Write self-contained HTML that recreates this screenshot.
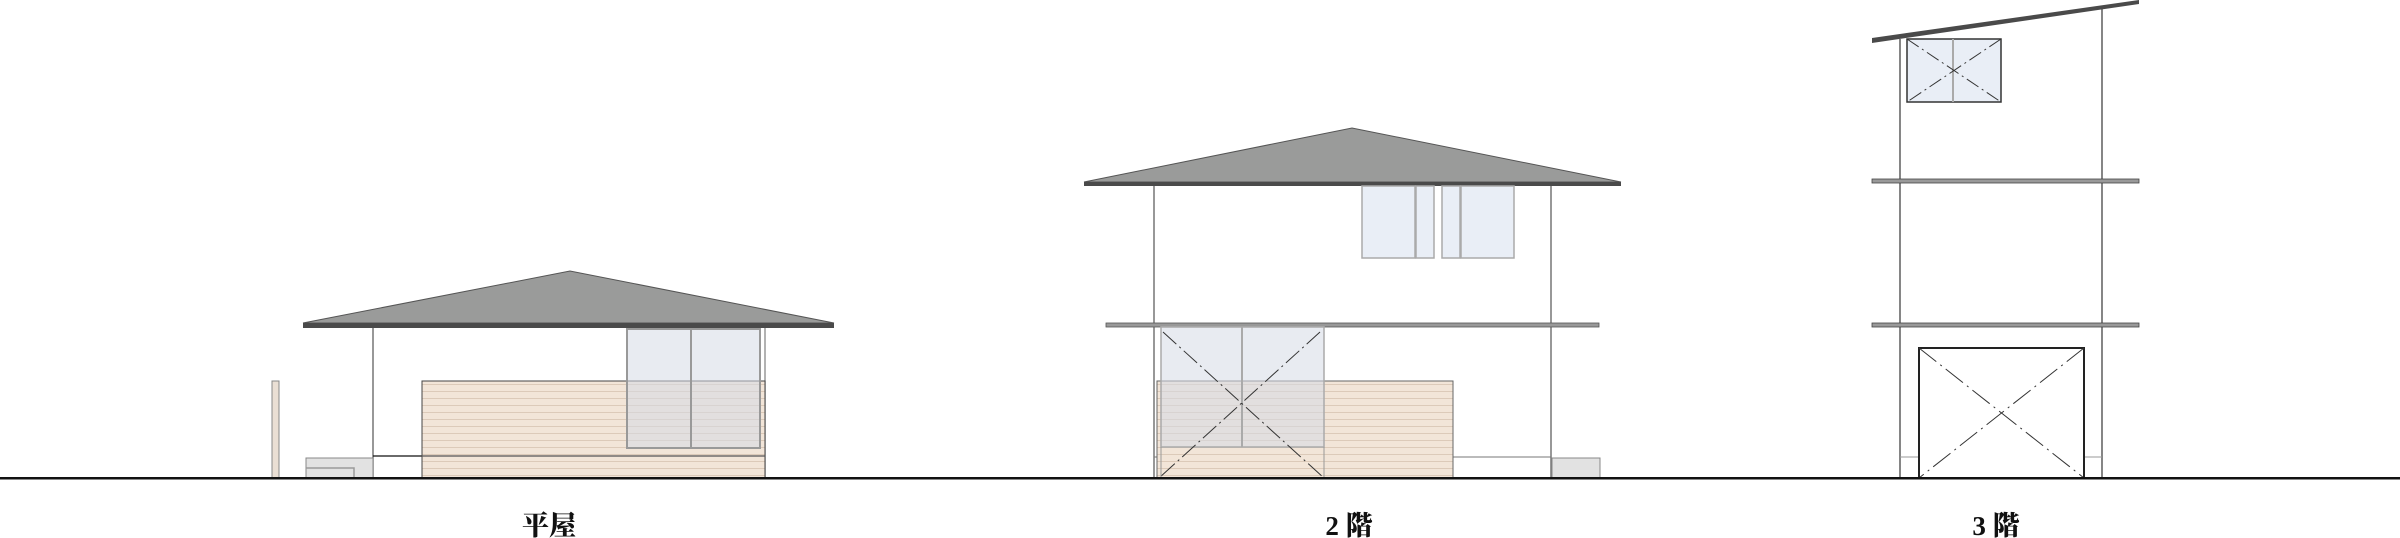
<!DOCTYPE html>
<html><head><meta charset="utf-8"><style>
html,body{margin:0;padding:0;background:#fff;}
svg{display:block;}
text{font-family:"Liberation Serif","Noto Serif CJK SC",serif;font-size:27px;font-weight:900;fill:#111;}
</style></head><body>
<svg width="2400" height="538" viewBox="0 0 2400 538" xmlns="http://www.w3.org/2000/svg">
<defs>
<pattern id="sid" width="10" height="7" patternUnits="userSpaceOnUse">
<rect width="10" height="7" fill="#f2e5d8"/>
<rect y="6" width="10" height="1" fill="#dccab9"/>
</pattern>
</defs>

<!-- House 1 -->
<polygon points="303,323 570,271 834,323" fill="#9a9b9a" stroke="#555" stroke-width="1"/>
<rect x="303" y="323" width="531" height="5" fill="#4a4a4a"/>
<line x1="373" y1="328" x2="373" y2="478" stroke="#777" stroke-width="1.5"/>
<line x1="765" y1="328" x2="765" y2="478" stroke="#999" stroke-width="1.5"/>
<rect x="272" y="381" width="7" height="97" fill="#eadfd4" stroke="#888" stroke-width="1"/>
<rect x="306" y="458" width="67" height="20" fill="#e2e2e2" stroke="#888" stroke-width="1"/>
<polyline points="306,468 354,468 354,478" fill="none" stroke="#999" stroke-width="1.5"/>
<line x1="373" y1="456" x2="422" y2="456" stroke="#111" stroke-width="1.2"/>
<rect x="422" y="381" width="343" height="97" fill="url(#sid)" stroke="#444" stroke-width="1"/>
<line x1="422" y1="456" x2="765" y2="456" stroke="#555" stroke-width="1.2"/>
<rect x="627" y="329" width="133" height="119" fill="#d6dbe6" fill-opacity="0.55" stroke="#999" stroke-width="2"/>
<line x1="691" y1="329" x2="691" y2="448" stroke="#999" stroke-width="2"/>

<!-- House 2 -->
<polygon points="1084,182 1352,128 1621,182" fill="#9a9b9a" stroke="#555" stroke-width="1"/>
<rect x="1084" y="182" width="537" height="4" fill="#4a4a4a"/>
<line x1="1154" y1="186" x2="1154" y2="478" stroke="#777" stroke-width="1.5"/>
<line x1="1551" y1="186" x2="1551" y2="478" stroke="#777" stroke-width="1.5"/>
<rect x="1362" y="186" width="53" height="72" fill="#e9eef6" stroke="#aaa" stroke-width="1.5"/>
<rect x="1416" y="186" width="18" height="72" fill="#e9eef6" stroke="#aaa" stroke-width="1.5"/>
<rect x="1442" y="186" width="18" height="72" fill="#e9eef6" stroke="#aaa" stroke-width="1.5"/>
<rect x="1461" y="186" width="53" height="72" fill="#e9eef6" stroke="#aaa" stroke-width="1.5"/>
<rect x="1106" y="323" width="493" height="4" fill="#999" stroke="#555" stroke-width="0.8"/>
<line x1="1154" y1="457" x2="1551" y2="457" stroke="#777" stroke-width="1"/>
<rect x="1157" y="381" width="296" height="97" fill="url(#sid)" stroke="#666" stroke-width="1"/>
<rect x="1161" y="327" width="163" height="120" fill="#d6dbe6" fill-opacity="0.55" stroke="#aaa" stroke-width="1.5"/>
<line x1="1242" y1="327" x2="1242" y2="447" stroke="#aaa" stroke-width="2"/>
<line x1="1163" y1="332" x2="1324" y2="478" stroke="#333" stroke-width="1" stroke-dasharray="18,4,2,4"/>
<line x1="1320" y1="332" x2="1159" y2="478" stroke="#333" stroke-width="1" stroke-dasharray="18,4,2,4"/>
<line x1="1161" y1="447" x2="1161" y2="478" stroke="#999" stroke-width="1"/>
<line x1="1324" y1="447" x2="1324" y2="478" stroke="#999" stroke-width="1"/>
<rect x="1552" y="458" width="48" height="20" fill="#e2e2e2" stroke="#888" stroke-width="1"/>

<!-- House 3 -->
<line x1="1900" y1="39" x2="1900" y2="478" stroke="#444" stroke-width="1.3"/>
<line x1="2102" y1="8" x2="2102" y2="478" stroke="#444" stroke-width="1.3"/>
<polygon points="1872,38 2139,0 2139,4 1872,43" fill="#4a4a4a"/>
<rect x="1907" y="39" width="94" height="63" fill="#e9eef6" stroke="#333" stroke-width="1.5"/>
<line x1="1953" y1="39" x2="1953" y2="102" stroke="#aaa" stroke-width="2"/>
<line x1="1907" y1="39" x2="2001" y2="102" stroke="#333" stroke-width="1" stroke-dasharray="14,4,2,4"/>
<line x1="2001" y1="39" x2="1907" y2="102" stroke="#333" stroke-width="1" stroke-dasharray="14,4,2,4"/>
<rect x="1872" y="179" width="267" height="4" fill="#999" stroke="#444" stroke-width="0.8"/>
<rect x="1872" y="323" width="267" height="4" fill="#999" stroke="#444" stroke-width="0.8"/>
<line x1="1900" y1="457" x2="1919" y2="457" stroke="#999" stroke-width="1"/>
<line x1="2084" y1="457" x2="2102" y2="457" stroke="#999" stroke-width="1"/>
<rect x="1919" y="348" width="165" height="130" fill="#fff" stroke="#222" stroke-width="2"/>
<line x1="1919" y1="348" x2="2084" y2="478" stroke="#333" stroke-width="1" stroke-dasharray="22,5,2,5"/>
<line x1="2084" y1="348" x2="1919" y2="478" stroke="#333" stroke-width="1" stroke-dasharray="22,5,2,5"/>

<!-- ground -->
<rect x="0" y="477" width="2400" height="2.5" fill="#111"/>

<!-- labels -->
<text x="549" y="535" text-anchor="middle">平屋</text>
<text x="1349" y="535" text-anchor="middle">2 階</text>
<text x="1996" y="535" text-anchor="middle">3 階</text>
</svg>
</body></html>
